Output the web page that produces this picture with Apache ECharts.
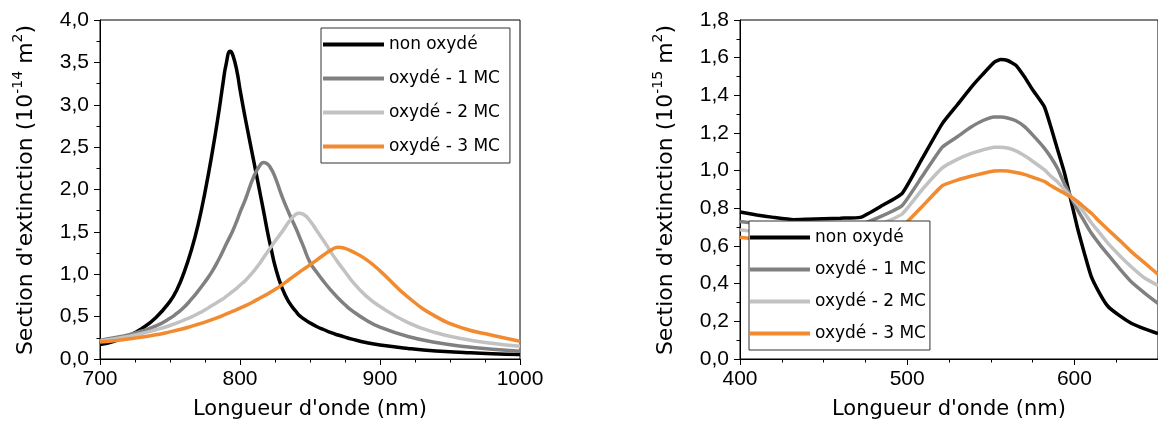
<!DOCTYPE html>
<html><head><meta charset="utf-8">
<script src="https://cdn.jsdelivr.net/npm/echarts@6/dist/echarts.min.js"></script>
<style>html,body{margin:0;padding:0;background:#fff}#c{width:1158px;height:428px}</style>
</head><body><div id="c"></div>
<script>
// ---------- data ----------
const seriesNames = ['non oxydé', 'oxydé - 1 MC', 'oxydé - 2 MC', 'oxydé - 3 MC'];
const seriesColors = ['#000000', '#808080', '#c2c2c2', '#f28a30'];

// left panel: wavelength (nm) and extinction (10^-14 m^2)
const wlLeft = [700,710,720,730,740,750,755,760,765,770,775,780,785,788,790,793,795,798,800,804,810,815,817,820,822,825,830,835,840,842,845,850,855,860,865,870,875,880,890,900,920,940,960,980,1000];
const leftNonOx = [0.17,0.21,0.27,0.36,0.49,0.68,0.82,1.02,1.27,1.58,1.97,2.42,2.93,3.27,3.47,3.63,3.58,3.38,3.18,2.82,2.32,1.90,1.73,1.47,1.32,1.10,0.84,0.67,0.56,0.52,0.48,0.425,0.38,0.345,0.31,0.283,0.258,0.235,0.195,0.165,0.125,0.095,0.077,0.062,0.052];
const leftOx1 = [0.22,0.25,0.285,0.33,0.39,0.48,0.54,0.61,0.70,0.80,0.91,1.03,1.18,1.28,1.35,1.45,1.52,1.64,1.73,1.89,2.16,2.305,2.32,2.295,2.25,2.15,1.92,1.72,1.54,1.46,1.34,1.14,1.02,0.91,0.81,0.72,0.64,0.57,0.46,0.375,0.265,0.195,0.148,0.115,0.092];
const leftOx2 = [0.21,0.235,0.265,0.30,0.345,0.395,0.425,0.46,0.495,0.535,0.58,0.63,0.68,0.71,0.735,0.775,0.80,0.84,0.87,0.93,1.04,1.15,1.20,1.27,1.32,1.39,1.50,1.62,1.71,1.72,1.71,1.63,1.51,1.39,1.26,1.14,1.03,0.92,0.745,0.62,0.43,0.31,0.235,0.185,0.15];
const leftOx3 = [0.20,0.215,0.235,0.26,0.285,0.32,0.34,0.36,0.385,0.41,0.435,0.465,0.495,0.515,0.53,0.55,0.565,0.585,0.60,0.63,0.68,0.725,0.743,0.77,0.79,0.82,0.875,0.935,0.995,1.02,1.055,1.11,1.17,1.23,1.285,1.32,1.305,1.27,1.175,1.04,0.73,0.50,0.36,0.28,0.21];

// right panel: wavelength (nm) and extinction (10^-15 m^2)
const wlRight = [400,410,420,432,440,450,460,472,485,497,509,521,530,538,545,552,556,560,565,570,575,582,586,590,594,598,602,606,610,615,620,627,634,642,650];
const rightNonOx = [0.78,0.765,0.752,0.74,0.742,0.745,0.748,0.752,0.815,0.88,1.065,1.25,1.35,1.44,1.51,1.575,1.59,1.585,1.56,1.50,1.43,1.34,1.23,1.11,0.99,0.84,0.69,0.56,0.44,0.35,0.28,0.23,0.19,0.16,0.135];
const rightOx1 = [0.73,0.72,0.71,0.70,0.70,0.705,0.71,0.715,0.76,0.815,0.97,1.125,1.18,1.23,1.265,1.285,1.285,1.28,1.265,1.235,1.19,1.12,1.07,1.01,0.93,0.86,0.79,0.73,0.67,0.61,0.555,0.48,0.41,0.35,0.295];
const rightOx2 = [0.686,0.675,0.665,0.66,0.66,0.665,0.67,0.68,0.72,0.77,0.90,1.015,1.06,1.09,1.11,1.125,1.125,1.12,1.105,1.08,1.05,1.005,0.97,0.94,0.90,0.86,0.82,0.775,0.725,0.67,0.615,0.55,0.49,0.43,0.39];
const rightOx3 = [0.647,0.635,0.625,0.62,0.62,0.625,0.63,0.64,0.67,0.705,0.81,0.92,0.95,0.97,0.985,0.998,1.0,0.998,0.99,0.98,0.965,0.943,0.92,0.90,0.88,0.86,0.835,0.805,0.775,0.73,0.688,0.63,0.57,0.51,0.45];

const leftTitle = ['Section d\'extinction (10', '-14', ' m', '2', ')'];
const rightTitle = ['Section d\'extinction (10', '-15', ' m', '2', ')'];
const xTitle = 'Longueur d\'onde (nm)';

// ---------- chart ----------
const leftSets = [leftNonOx, leftOx1, leftOx2, leftOx3];
const rightSets = [rightNonOx, rightOx1, rightOx2, rightOx3];
const pair = (xs, ys) => xs.map((x, i) => [x, ys[i]]);
const TICK_FONT = 'Liberation Sans';
const TITLE_FONT = 'DejaVu Sans';

function xAxisCfg(gi, min, max, hideMax) {
  return {
    type: 'value', gridIndex: gi, min: min, max: max, interval: 100,
    name: xTitle, nameLocation: 'middle', nameGap: 40,
    nameTextStyle: {fontFamily: TITLE_FONT, fontSize: 21, color: '#000'},
    axisLine: {show: true, lineStyle: {color: '#000', width: 1}},
    axisTick: {show: true, inside: false, length: 6, lineStyle: {color: '#000'}},
    minorTick: {show: true, splitNumber: 4, length: 3.5, lineStyle: {color: '#000'}},
    axisLabel: {fontFamily: TICK_FONT, fontSize: 21, color: '#000', margin: 10,
      showMaxLabel: !hideMax, formatter: v => String(v)},
    splitLine: {show: false}
  };
}
function yAxisCfg(gi, max, interval) {
  return {
    type: 'value', gridIndex: gi, min: 0, max: max, interval: interval,
    axisLine: {show: true, lineStyle: {color: '#000', width: 1}},
    axisTick: {show: true, inside: false, length: 6, lineStyle: {color: '#000'}},
    minorTick: {show: true, splitNumber: 2, length: 3.5, lineStyle: {color: '#000'}},
    axisLabel: {fontFamily: TICK_FONT, fontSize: 21, color: '#000', margin: 11,
      formatter: v => v.toFixed(1).replace('.', ',')},
    splitLine: {show: false}
  };
}
function titleGraphic(x, y, parts) {
  return {
    type: 'text', x: x, y: y, rotation: Math.PI / 2, z: 10,
    style: {
      text: '{m|' + parts[0] + '}{s|' + parts[1] + '}{m|' + parts[2] + '}{s|' + parts[3] + '}{m|' + parts[4] + '}',
      align: 'center', verticalAlign: 'middle', fill: '#000',
      rich: {
        m: {fontFamily: TITLE_FONT, fontSize: 22, fill: '#000', lineHeight: 26, verticalAlign: 'bottom'},
        s: {fontFamily: TITLE_FONT, fontSize: 14, fill: '#000', lineHeight: 14, verticalAlign: 'top'}
      }
    }
  };
}
function legendCfg(left, top, padding, itemWidth, itemGap) {
  return {
    show: true, orient: 'vertical', left: left, top: top, data: seriesNames,
    icon: 'rect', padding: padding, itemWidth: itemWidth, itemHeight: 4, itemGap: itemGap,
    backgroundColor: '#fff', borderColor: '#333', borderWidth: 1,
    selectedMode: false,
    textStyle: {fontFamily: TITLE_FONT, fontSize: 17, lineHeight: 17, color: '#000'}
  };
}

const series = [];
leftSets.forEach((arr, i) => series.push({
  type: 'line', name: seriesNames[i], xAxisIndex: 0, yAxisIndex: 0,
  data: pair(wlLeft, arr), smooth: 0.5, symbol: 'none',
  lineStyle: {color: seriesColors[i], width: 3.5}, itemStyle: {color: seriesColors[i]}
}));
rightSets.forEach((arr, i) => series.push({
  type: 'line', name: seriesNames[i], xAxisIndex: 1, yAxisIndex: 1,
  data: pair(wlRight, arr), smooth: 0.15, symbol: 'none',
  lineStyle: {color: seriesColors[i], width: 3.5}, itemStyle: {color: seriesColors[i]}
}));

const chart = echarts.init(document.getElementById('c'), null, {renderer: 'canvas'});
chart.setOption({
  animation: false,
  backgroundColor: '#fff',
  grid: [
    {left: 100, top: 20, width: 420, height: 339, show: true, borderColor: '#000', borderWidth: 1, backgroundColor: 'transparent'},
    {left: 740, top: 20, width: 421, height: 339, show: true, borderColor: '#000', borderWidth: 1, backgroundColor: 'transparent'}
  ],
  xAxis: [xAxisCfg(0, 700, 1000, false), xAxisCfg(1, 400, 650, true)],
  yAxis: [yAxisCfg(0, 4, 0.5), yAxisCfg(1, 1.8, 0.2)],
  legend: [
    legendCfg(321, 28, [8, 10, 8, 2], 61, 17),
    legendCfg(749, 221, [8, 4, 8, 1], 60, 15)
  ],
  graphic: [titleGraphic(24, 190, leftTitle), titleGraphic(664, 190, rightTitle)],
  series: series
});
</script>
</body></html>
